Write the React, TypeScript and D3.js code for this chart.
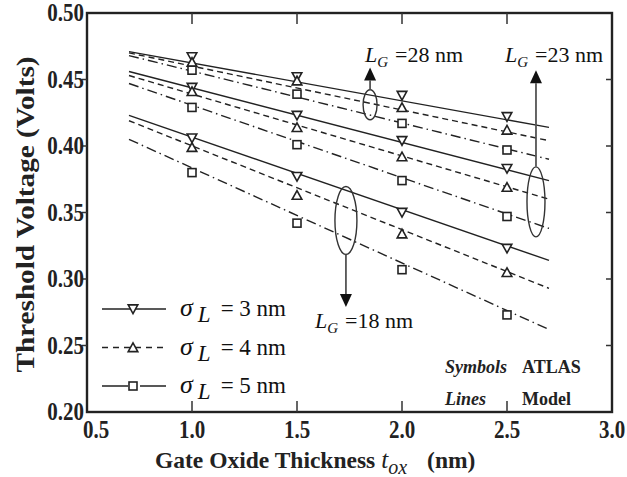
import React from "react";
import * as d3 from "d3";

const W = 627;
const H = 477;
const M = { left: 87, top: 13, right: 612, bottom: 412 };

const xTicks = [0.5, 1.0, 1.5, 2.0, 2.5, 3.0];
const yTicks = [0.2, 0.25, 0.3, 0.35, 0.4, 0.45, 0.5];

// ATLAS symbol x positions
const atlasX = [1.0, 1.5, 2.0, 2.5];
// Model line x range
const modelX = [0.7, 2.7];

// L_G = 28 nm
const atlas28s3 = [0.467, 0.452, 0.438, 0.422];
const atlas28s4 = [0.463, 0.449, 0.429, 0.412];
const atlas28s5 = [0.457, 0.439, 0.417, 0.397];
const model28s3 = [0.471, 0.414];
const model28s4 = [0.47, 0.404];
const model28s5 = [0.468, 0.39];
// L_G = 23 nm
const atlas23s3 = [0.444, 0.423, 0.404, 0.383];
const atlas23s4 = [0.441, 0.414, 0.392, 0.369];
const atlas23s5 = [0.429, 0.401, 0.374, 0.347];
const model23s3 = [0.456, 0.374];
const model23s4 = [0.453, 0.36];
const model23s5 = [0.447, 0.338];
// L_G = 18 nm
const atlas18s3 = [0.406, 0.377, 0.35, 0.323];
const atlas18s4 = [0.399, 0.363, 0.334, 0.305];
const atlas18s5 = [0.38, 0.342, 0.307, 0.273];
const model18s3 = [0.423, 0.314];
const model18s4 = [0.419, 0.293];
const model18s5 = [0.405, 0.262];

const sigmaLabels = ["3", "4", "5"];

type Sty = { dash: string; marker: "down" | "up" | "square" };
const styles: Sty[] = [
  { dash: "none", marker: "down" },
  { dash: "6,4", marker: "up" },
  { dash: "10,4,1.5,4", marker: "square" },
];

const series = [
  { model: model28s3, atlas: atlas28s3, s: 0 },
  { model: model28s4, atlas: atlas28s4, s: 1 },
  { model: model28s5, atlas: atlas28s5, s: 2 },
  { model: model23s3, atlas: atlas23s3, s: 0 },
  { model: model23s4, atlas: atlas23s4, s: 1 },
  { model: model23s5, atlas: atlas23s5, s: 2 },
  { model: model18s3, atlas: atlas18s3, s: 0 },
  { model: model18s4, atlas: atlas18s4, s: 1 },
  { model: model18s5, atlas: atlas18s5, s: 2 },
];

const x = d3.scaleLinear().domain([0.5, 3.0]).range([M.left, M.right]);
const y = d3.scaleLinear().domain([0.2, 0.5]).range([M.bottom, M.top]);

const INK = "#222";
const SERIF = "'Liberation Serif', 'Times New Roman', serif";

function Marker({ kind, cx, cy }: { kind: string; cx: number; cy: number }) {
  const s = 4.8;
  if (kind === "down") {
    return (
      <path
        d={`M${cx - s},${cy - s * 0.85}L${cx + s},${cy - s * 0.85}L${cx},${cy + s * 0.95}Z`}
        fill="white"
        stroke={INK}
        strokeWidth={1.6}
      />
    );
  }
  if (kind === "up") {
    return (
      <path
        d={`M${cx - s},${cy + s * 0.85}L${cx + s},${cy + s * 0.85}L${cx},${cy - s * 0.95}Z`}
        fill="white"
        stroke={INK}
        strokeWidth={1.6}
      />
    );
  }
  return (
    <rect x={cx - 4} y={cy - 4} width={8} height={8} fill="white" stroke={INK} strokeWidth={1.6} />
  );
}

const line = d3
  .line<[number, number]>()
  .x((d) => x(d[0]))
  .y((d) => y(d[1]));

function Arrow({ x0, y0, y1 }: { x0: number; y0: number; y1: number }) {
  const dir = y1 < y0 ? -1 : 1;
  const headLen = 13;
  const base = y1 - dir * headLen;
  return (
    <g>
      <line x1={x0} y1={y0} x2={x0} y2={base} stroke="#555" strokeWidth={1.8} />
      <path d={`M${x0 - 6},${base}L${x0 + 6},${base}L${x0},${y1}Z`} fill="#111" />
    </g>
  );
}

function LgLabel({ tx, ty, val }: { tx: number; ty: number; val: string }) {
  return (
    <text x={tx} y={ty} fontFamily={SERIF} fontSize={22} fill="#111">
      <tspan fontStyle="italic">L</tspan>
      <tspan fontStyle="italic" fontSize={15} dy={5}>
        G
      </tspan>
      <tspan dy={-5} dx={7}>{`=${val} nm`}</tspan>
    </text>
  );
}

export default function App() {
  const ann = [
    { cx: 1.848, cy: 0.431, rx: 7, ry: 15, up: true, tipY: 0.459, label: "28", lx: 365, ly: 62 },
    { cx: 2.638, cy: 0.358, rx: 9, ry: 35, up: true, tipY: 0.457, label: "23", lx: 505, ly: 62 },
    { cx: 1.733, cy: 0.344, rx: 11, ry: 34, up: false, tipY: 0.279, label: "18", lx: 315, ly: 328 },
  ];
  return (
    <svg
      width={W}
      height={H}
      style={{ position: "absolute", left: 0, top: 0, background: "white" }}
    >
      <rect width={W} height={H} fill="white" />
      {/* model lines */}
      {series.map((s, i) => (
        <path
          key={"m" + i}
          d={line(modelX.map((xv, j) => [xv, s.model[j]] as [number, number])) || ""}
          fill="none"
          stroke={INK}
          strokeWidth={1.4}
          strokeDasharray={styles[s.s].dash}
        />
      ))}
      {/* ATLAS symbols */}
      {series.map((s, i) =>
        atlasX.map((xv, j) => (
          <Marker key={"a" + i + "-" + j} kind={styles[s.s].marker} cx={x(xv)} cy={y(s.atlas[j])} />
        ))
      )}
      {/* annotations */}
      {ann.map((a, i) => {
        const cx = x(a.cx);
        const cy = y(a.cy);
        return (
          <g key={"ann" + i}>
            <ellipse cx={cx} cy={cy} rx={a.rx} ry={a.ry} fill="none" stroke="#333" strokeWidth={1.4} />
            <Arrow x0={cx} y0={a.up ? cy - a.ry : cy + a.ry} y1={y(a.tipY)} />
            <LgLabel tx={a.lx} ty={a.ly} val={a.label} />
          </g>
        );
      })}
      {/* frame */}
      <rect
        x={M.left}
        y={M.top}
        width={M.right - M.left}
        height={M.bottom - M.top}
        fill="none"
        stroke="#222"
        strokeWidth={2.4}
      />
      {/* x ticks inward top and bottom */}
      {xTicks.slice(1, -1).map((t) => (
        <g key={"xt" + t}>
          <line x1={x(t)} x2={x(t)} y1={M.bottom} y2={M.bottom - 11} stroke="#333" strokeWidth={1.5} />
          <line x1={x(t)} x2={x(t)} y1={M.top} y2={M.top + 11} stroke="#333" strokeWidth={1.5} />
        </g>
      ))}
      {/* y ticks */}
      {yTicks.slice(1, -1).map((t) => (
        <g key={"yt" + t}>
          <line x1={M.left} x2={M.left - 5} y1={y(t)} y2={y(t)} stroke="#333" strokeWidth={1.5} />
          <line x1={M.right} x2={M.right - 6} y1={y(t)} y2={y(t)} stroke="#333" strokeWidth={1.5} />
        </g>
      ))}
      {/* y tick labels */}
      {yTicks.map((t) => (
        <text
          key={"yl" + t}
          transform={`translate(${M.left - 3},${y(t) + 8}) scale(1,1.18)`}
          textAnchor="end"
          fontFamily={SERIF}
          fontWeight="bold"
          fontSize={21}
          fill="#222"
        >
          {t.toFixed(2)}
        </text>
      ))}
      {/* x tick labels */}
      {xTicks.map((t, i) => (
        <text
          key={"xl" + t}
          transform={`translate(${i === 0 ? x(t) + 9 : x(t)},${M.bottom + 26}) scale(1,1.18)`}
          textAnchor="middle"
          fontFamily={SERIF}
          fontWeight="bold"
          fontSize={21}
          fill="#222"
        >
          {t.toFixed(1)}
        </text>
      ))}
      {/* axis titles */}
      <text
        transform={`translate(34,${(M.top + M.bottom) / 2 + 2}) rotate(-90)`}
        textAnchor="middle"
        fontFamily={SERIF}
        fontWeight="bold"
        fontSize={25}
        textLength={316}
        lengthAdjust="spacingAndGlyphs"
        fill="#222"
      >
        Threshold Voltage (Volts)
      </text>
      <text x={155} y={468} fontFamily={SERIF} fontWeight="bold" fontSize={23.5} fill="#222">
        Gate Oxide Thickness
        <tspan fontStyle="italic" fontWeight="normal" fontSize={25} dx={6}>
          t
        </tspan>
        <tspan fontStyle="italic" fontWeight="normal" fontSize={20} dy={6}>
          ox
        </tspan>
        <tspan dy={-6} dx={20}>
          (nm)
        </tspan>
      </text>
      {/* legend */}
      {styles.map((s, i) => {
        const ly = 309 + i * 38.5;
        return (
          <g key={"lg" + i}>
            <line
              x1={102}
              x2={166}
              y1={ly}
              y2={ly}
              stroke={INK}
              strokeWidth={1.4}
              strokeDasharray={s.dash === "none" ? "none" : i === 1 ? "6,5" : "26,12"}
            />
            <Marker kind={s.marker} cx={133} cy={ly} />
            <text x={180} y={ly + 7} fontFamily={SERIF} fontSize={23} fill="#111">
              <tspan fontStyle="italic" fontSize={26}>σ</tspan>
              <tspan fontStyle="italic" dx={5} dy={6}>
                L
              </tspan>
              <tspan dx={10} dy={-6}>{`= ${sigmaLabels[i]} nm`}</tspan>
            </text>
          </g>
        );
      })}
      {/* Symbols / Lines note */}
      <text x={445} y={373} fontFamily={SERIF} fontSize={18} fontStyle="italic" fontWeight="bold" fill="#222">
        Symbols
      </text>
      <text x={522} y={373} fontFamily={SERIF} fontSize={18} fontWeight="bold" fill="#222">
        ATLAS
      </text>
      <text x={445} y={405} fontFamily={SERIF} fontSize={18} fontStyle="italic" fontWeight="bold" fill="#222">
        Lines
      </text>
      <text x={522} y={405} fontFamily={SERIF} fontSize={18} fontWeight="bold" fill="#222">
        Model
      </text>
    </svg>
  );
}
